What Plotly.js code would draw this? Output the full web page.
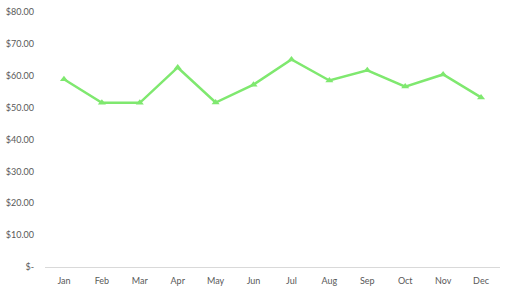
<!DOCTYPE html>
<html><head><meta charset="utf-8">
<script src="https://cdn.plot.ly/plotly-3.0.1.min.js"></script>
<style>html,body{margin:0;padding:0;background:#fff}#chart{width:512px;height:293px}</style>
</head><body><div id="chart"></div>
<script>
const months = ['Jan','Feb','Mar','Apr','May','Jun','Jul','Aug','Sep','Oct','Nov','Dec'];
const values = [58.9, 51.5, 51.5, 62.6, 51.6, 57.2, 65.1, 58.5, 61.7, 56.6, 60.4, 53.2];
const yTickVals = [0,10,20,30,40,50,60,70,80];
const yTickText = ['$-','$10.00','$20.00','$30.00','$40.00','$50.00','$60.00','$70.00','$80.00'];

Plotly.newPlot('chart', [{
  x: months, y: values, type: 'scatter', mode: 'lines+markers',
  line: {color: '#7FE86F', width: 2.5},
  marker: {symbol: 'triangle-up', size: 7, color: '#7FE86F'},
  hoverinfo: 'none'
}], {
  width: 512, height: 293,
  margin: {l: 45, r: 12, t: 12, b: 26},
  paper_bgcolor: '#fff', plot_bgcolor: '#fff',
  showlegend: false,
  font: {family: 'Lato, "Open Sans", sans-serif', size: 9, color: '#595959'},
  xaxis: {type: 'category', range: [-0.5, 11.5], showgrid: false, zeroline: false,
          showline: true, linecolor: '#d9d9d9', linewidth: 1, ticks: '', ticklabelstandoff: 5, fixedrange: true},
  yaxis: {range: [0, 80], tickvals: yTickVals, ticktext: yTickText, showgrid: false, zeroline: false,
          showline: false, ticks: '', ticklabelstandoff: 10, fixedrange: true}
}, {displayModeBar: false, staticPlot: true});
</script></body></html>
